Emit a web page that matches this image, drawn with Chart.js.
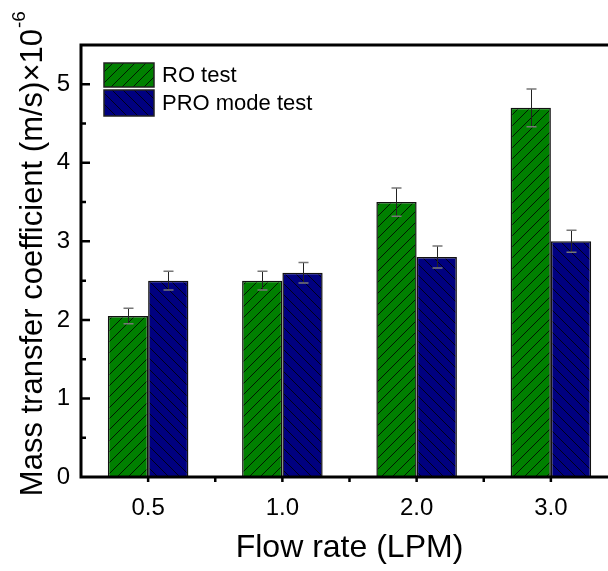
<!DOCTYPE html>
<html>
<head>
<meta charset="utf-8">
<script src="https://cdn.jsdelivr.net/npm/chart.js@4"></script>
<style>
  html, body { margin: 0; padding: 0; background: #fff; overflow: hidden; }
  #wrap { position: absolute; left: 0; top: 0; width: 622px; height: 571px; }
</style>
</head>
<body>
<div id="wrap"><canvas id="massChart"></canvas></div>
<script>
// data
const categories = ['0.5', '1.0', '2.0', '3.0'];
const roValues = [2.05, 2.5, 3.5, 4.7];
const roErrors = [0.10, 0.12, 0.18, 0.24];
const proValues = [2.5, 2.6, 2.8, 3.0];
const proErrors = [0.12, 0.13, 0.14, 0.14];
const seriesNames = ['RO test', 'PRO mode test'];
const yMin = 0, yMax = 5.5, yStep = 1, yMinorStep = 0.5;

const FONT = "'Liberation Sans', Arial, sans-serif";

function hatch(color, dir) {
  const s = 11;
  const c = document.createElement('canvas');
  c.width = s; c.height = s;
  const g = c.getContext('2d');
  g.fillStyle = color;
  g.fillRect(0, 0, s, s);
  g.strokeStyle = '#000';
  g.lineWidth = 0.8;
  g.beginPath();
  if (dir > 0) {
    for (let k = -1; k <= 1; k++) { g.moveTo(k * s, s); g.lineTo(k * s + s, 0); }
  } else {
    for (let k = -1; k <= 1; k++) { g.moveTo(k * s, 0); g.lineTo(k * s + s, s); }
  }
  g.stroke();
  return g.createPattern(c, 'repeat');
}

const greenFill = hatch('#008000', 1);
const blueFill = hatch('#000080', -1);

const errors = [roErrors, proErrors];

const frame = {
  id: 'frame',
  afterDatasetsDraw(chart) {
    const ctx = chart.ctx;
    const y = chart.scales.y;
    ctx.save();
    chart.data.datasets.forEach((ds, di) => {
      const meta = chart.getDatasetMeta(di);
      meta.data.forEach((bar, i) => {
        const v = ds.data[i], e = errors[di][i];
        const top = y.getPixelForValue(v + e), bot = y.getPixelForValue(v - e);
        const x = Math.round(bar.x) + 0.5;
        ctx.strokeStyle = '#222';
        ctx.lineWidth = 1;
        ctx.beginPath();
        ctx.moveTo(x, top); ctx.lineTo(x, bot);
        ctx.stroke();
        ctx.strokeStyle = '#777';
        ctx.lineWidth = 1.5;
        ctx.beginPath();
        ctx.moveTo(x - 5, top); ctx.lineTo(x + 5, top);
        ctx.moveTo(x - 5, bot); ctx.lineTo(x + 5, bot);
        ctx.stroke();
      });
    });
    ctx.restore();
  },
  afterDraw(chart) {
    const ctx = chart.ctx;
    const a = chart.chartArea;
    const x = chart.scales.x, y = chart.scales.y;
    ctx.save();
    ctx.strokeStyle = '#000';
    ctx.lineWidth = 3;
    ctx.beginPath();
    ctx.moveTo(a.left, a.top); ctx.lineTo(a.left, a.bottom);
    ctx.moveTo(a.left - 1.5, a.bottom); ctx.lineTo(a.right, a.bottom);
    ctx.moveTo(a.left - 1.5, a.top); ctx.lineTo(a.right, a.top);
    ctx.moveTo(a.right, a.top); ctx.lineTo(a.right, a.bottom);
    ctx.stroke();

    // y ticks point inward
    ctx.lineWidth = 2.5;
    ctx.beginPath();
    for (let v = yMin + yMinorStep; v < yMax; v += yMinorStep) {
      const py = y.getPixelForValue(v);
      const major = Math.abs(v - Math.round(v)) < 1e-6;
      ctx.moveTo(a.left, py); ctx.lineTo(a.left + (major ? 9 : 5), py);
    }
    // x ticks point outward
    for (let i = 0; i < categories.length; i++) {
      const px = x.getPixelForValue(i);
      ctx.moveTo(px, a.bottom); ctx.lineTo(px, a.bottom + 5);
      if (i < categories.length - 1) {
        const pm = x.getPixelForValue(i + 0.5);
        ctx.moveTo(pm, a.bottom); ctx.lineTo(pm, a.bottom + 5);
      }
    }
    ctx.stroke();

    // legend
    const fills = [greenFill, blueFill];
    const boxes = [[104, 63, 50, 24], [104, 90, 50, 26]];
    ctx.font = '22px ' + FONT;
    ctx.textBaseline = 'middle';
    boxes.forEach((b, i) => {
      ctx.fillStyle = fills[i];
      ctx.fillRect(b[0], b[1], b[2], b[3]);
      ctx.lineWidth = 1.5;
      ctx.strokeStyle = '#222';
      ctx.strokeRect(b[0], b[1], b[2], b[3]);
      ctx.fillStyle = '#000';
      ctx.fillText(seriesNames[i], 162, b[1] + b[3] / 2 + 1);
    });

    // y axis title with superscript
    const main = 'Mass transfer coefficient (m/s)\u00d710';
    ctx.font = '31px ' + FONT;
    const w = ctx.measureText(main).width;
    ctx.translate(42, 29 + w);
    ctx.rotate(-Math.PI / 2);
    ctx.textBaseline = 'alphabetic';
    ctx.textAlign = 'left';
    ctx.fillText(main, 0, 0);
    ctx.font = '19px ' + FONT;
    ctx.fillText('-6', w + 1, -17);
    ctx.restore();
  }
};

new Chart(document.getElementById('massChart'), {
  type: 'bar',
  data: {
    labels: categories,
    datasets: [
      { label: seriesNames[0], data: roValues, backgroundColor: greenFill, borderColor: '#111', borderWidth: 1.5 },
      { label: seriesNames[1], data: proValues, backgroundColor: blueFill, borderColor: '#111', borderWidth: 1.5 }
    ]
  },
  options: {
    responsive: true,
    maintainAspectRatio: false,
    animation: false,
    layout: { padding: { top: 45, right: 4, left: 0, bottom: 0 } },
    plugins: { legend: { display: false }, tooltip: { enabled: false } },
    datasets: { bar: { categoryPercentage: 0.6, barPercentage: 1 } },
    scales: {
      x: {
        grid: { display: false, drawTicks: false },
        border: { display: false },
        ticks: { font: { family: FONT, size: 24 }, color: '#000', padding: 17, maxRotation: 0 },
        title: { display: true, text: 'Flow rate (LPM)', font: { family: FONT, size: 32 }, color: '#000', padding: { top: 0, bottom: 4 } },
        afterFit(scale) { scale.height = 94; }
      },
      y: {
        min: yMin,
        max: yMax,
        grid: { display: false, drawTicks: false },
        border: { display: false },
        ticks: { stepSize: yStep, includeBounds: false, font: { family: FONT, size: 24 }, color: '#000', padding: 11 },
        afterFit(scale) { scale.width = 81; }
      }
    }
  },
  plugins: [frame]
});
</script>
</body>
</html>
